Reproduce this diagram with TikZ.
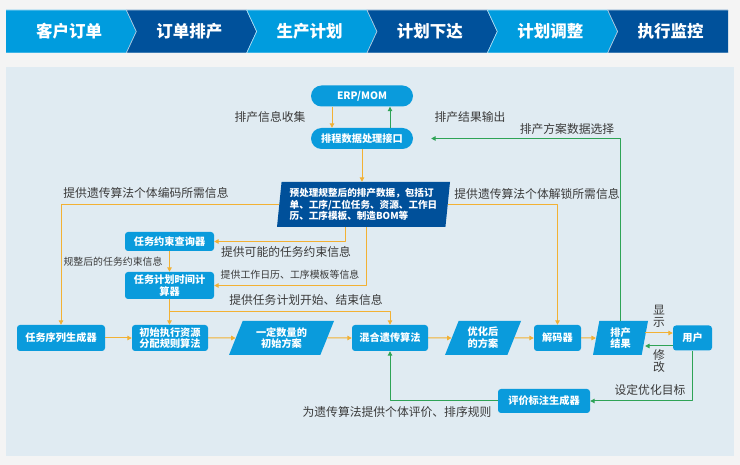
\documentclass[tikz,border=0pt]{standalone}
\usepackage{fontspec}
\setmainfont{Noto Sans CJK SC}
\usetikzlibrary{arrows.meta,calc,shapes.geometric}
\definecolor{pgback}{HTML}{F4F4F4}
\definecolor{panel}{HTML}{E0EBF2}
\definecolor{hdlight}{HTML}{009CDE}
\definecolor{hddark}{HTML}{00519B}
\definecolor{bxblue}{HTML}{0A9BDC}
\definecolor{prepblue}{HTML}{00509A}
\definecolor{arrorange}{HTML}{F2B134}
\definecolor{arrgreen}{HTML}{2EA356}
\definecolor{txtgray}{HTML}{3A3A3A}

\begin{document}
\begin{tikzpicture}[x=1pt, y=-1pt, line join=round,
  >={Triangle[length=4.5pt,width=4.5pt]},
  hdtext/.style={text=white, font=\bfseries\fontsize{16.5}{18}\selectfont},
  lbl/.style={text=txtgray, inner sep=0pt, font=\fontsize{11.8}{13}\selectfont},
  lblsm/.style={lbl, font=\fontsize{9.9}{11}\selectfont},
  box/.style={fill=bxblue, rounded corners=3pt, text=white, align=center,
    inner sep=1pt, minimum height=26pt,
    font=\bfseries\fontsize{10.2}{11.8}\selectfont},
  pill/.style={box, rounded corners=10.5pt, minimum width=102pt,
    minimum height=21pt},
  para/.style={box, sharp corners, trapezium, trapezium left angle=60,
    trapezium right angle=120, trapezium stretches body, minimum height=34pt},
  oarr/.style={draw=arrorange, line width=1pt, ->},
  garr/.style={draw=arrgreen, line width=1pt, ->}]
  \path[use as bounding box, fill=pgback] (0,0) rectangle (740,465);
  \fill[panel] (6,67) rectangle (734,456);
  % header chevrons, 6 steps of ~120.3
  \begin{scope}
    \clip (6,10) rectangle (728,53);
    \foreach \lab [count=\i from 0] in
      {客户订单,订单排产,生产计划,计划下达,计划调整,执行监控} {
      \pgfmathsetmacro\xa{6+120.33*\i-12*(\i==0)}
      \pgfmathsetmacro\xb{6+120.33*(\i+1)}
      \ifodd\i \def\hc{hddark}\else \def\hc{hdlight}\fi
      \filldraw[fill=\hc, draw=white!70!\hc, line width=0.6pt]
        (\xa,10) -- (\xb,10) -- (\xb+10,31.5) -- (\xb,53) -- (\xa,53)
        -- (\xa+10,31.5) -- cycle;
      \node[hdtext] (hd\i) at (6+120.33*\i+63,31.5) {\lab};
    }
  \end{scope}

  \node[pill] (erp) at (362,96) {ERP/MOM};
  \node[pill] (api) at (362,138.5) {排程数据处理接口};
  \node[para, fill=prepblue, trapezium left angle=82.4,
    trapezium right angle=97.6, minimum width=173pt, minimum height=45pt,
    align=left, font=\bfseries\fontsize{9.6}{11.5}\selectfont]
    (prep) at (363.5,204.5)
    {预处理规整后的排产数据，包括订\\单、工序/工位任务、资源、工作日\\历、工序模板、制造BOM等};
  \node[box, minimum width=89pt, minimum height=19pt] (qry) at (169.5,241.5)
    {任务约束查询器};
  \node[box, minimum width=89pt, minimum height=27pt] (tim) at (169.5,285.5)
    {任务计划时间计\\算器};

  \node[box, minimum width=88pt] (seq) at (61,338) {任务序列生成器};
  \node[box, minimum width=76pt] (init) at (170,338) {初始执行资源\\分配规则算法};
  \node[para, minimum width=105pt] (cnt) at (281.5,338) {一定数量的\\初始方案};
  \node[box, minimum width=76pt] (mix) at (390,338) {混合遗传算法};
  \node[para, minimum width=76pt] (opt) at (483,338) {优化后\\的方案};
  \node[box, minimum width=47pt] (dec) at (557.5,338) {解码器};
  \node[para, trapezium left angle=75, trapezium right angle=105,
    minimum width=55pt] (res) at (620.5,338) {排产\\结果};
  \node[box, minimum width=39pt, minimum height=25pt] (usr) at (692.5,338)
    {用户};
  \node[box, minimum width=92pt, minimum height=24pt] (evl) at (544,401)
    {评价标注生成器};

  \node[lbl] (l1) at (270,117) {排产信息收集};
  \node[lbl] (l2) at (470,117) {排产结果输出};
  \node[lbl] (l3) at (567,129) {排产方案数据选择};
  \node[lbl] (l4) at (146,193) {提供遗传算法个体编码所需信息};
  \node[lbl] (l5) at (537,194) {提供遗传算法个体解锁所需信息};
  \node[lbl] (l6) at (286,252) {提供可能的任务约束信息};
  \node[lblsm] (l7) at (290,275) {提供工作日历、工序模板等信息};
  \node[lblsm] (l8) at (113,262) {规整后的任务约束信息};
  \node[lbl] (l9) at (306,300) {提供任务计划开始、结束信息};
  \node[lbl, align=center, font=\fontsize{11.8}{12}\selectfont] (l10)
    at (659,316) {显\\示};
  \node[lbl, align=center, font=\fontsize{11.8}{12}\selectfont] (l11)
    at (659,361) {修\\改};
  \node[lbl] (l12) at (650,390) {设定优化目标};
  \node[lbl] (l13) at (397,412) {为遗传算法提供个体评价、排序规则};

  \draw[oarr] ([xshift=-30pt]erp.south) -- ([xshift=-30pt]api.north);
  \draw[garr] ([xshift=28pt]api.north) -- ([xshift=28pt]erp.south);
  \draw[oarr] (api.south) -- (api.south |- prep.north);
  \draw[oarr] (prep.west) -| (seq.north);
  \draw[oarr] (prep.east) -| (dec.north);
  \draw[oarr] ([xshift=-18pt]prep.south) |- (qry.east);
  \draw[oarr] ([xshift=3pt]prep.south) |- (tim.east);
  \draw[oarr] (qry.south) -- (tim.north);
  \draw[oarr] (tim.south) -- (tim.south |- init.north);
  \draw[oarr] ($(tim.south)!0.5!(tim.south |- init.north)$) -| (mix.north);
  \draw[oarr] (seq.east) -- (init.west);
  \draw[oarr] (init.east) -- (cnt.west);
  \draw[oarr] (cnt.east) -- (mix.west);
  \draw[oarr] (mix.east) -- (opt.west);
  \draw[oarr] (opt.east) -- (dec.west);
  \draw[oarr] (dec.east) -- (res.west);
  \draw[oarr] ([yshift=5pt]res.east) -- ([yshift=5pt]res.east -| usr.west);
  \draw[garr] ([yshift=-8pt]usr.west) -- ([yshift=-8pt]usr.west -| res.east);
  \draw[garr] (usr.south) |- (evl.east);
  \draw[garr] (evl.west) -| (mix.south);
  \draw[garr, shorten >=18pt] (res.north) |- (api.east);
\end{tikzpicture}
\end{document}
